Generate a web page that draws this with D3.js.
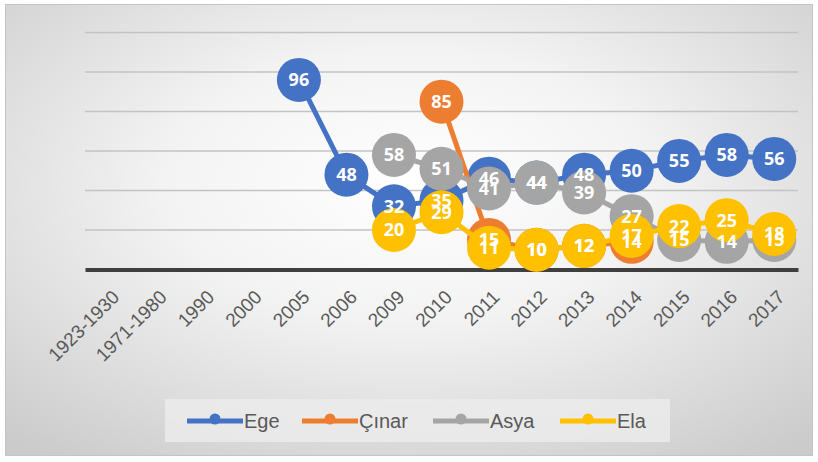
<!DOCTYPE html>
<html>
<head>
<meta charset="utf-8">
<script src="https://cdn.jsdelivr.net/npm/d3@7"></script>
<style>
  body { margin: 0; background: #fff; }
  svg { display: block; }
</style>
</head>
<body>
<script>
// ** Data
const categories = ["1923-1930", "1971-1980", "1990", "2000", "2005", "2006", "2009",
  "2010", "2011", "2012", "2013", "2014", "2015", "2016", "2017"];
const ege   = [null, null, null, null, 96, 48, 32, 35, 46, 44, 48, 50, 55, 58, 56];
const cinar = [null, null, null, null, null, null, null, 85, 15, 10, 12, 14, null, null, null];
const asya  = [null, null, null, null, null, null, 58, 51, 41, 44, 39, 27, 15, 14, 15];
const ela   = [null, null, null, null, null, null, 20, 29, 11, 10, 12, 17, 22, 25, 18];
const seriesNames = ["Ege", "Çınar", "Asya", "Ela"];
const yTicks = [0, 20, 40, 60, 80, 100, 120];

const colors = ["#4472C4", "#ED7D31", "#A5A5A5", "#FFC000"];
const series = [ege, cinar, asya, ela].map((values, i) => ({
  name: seriesNames[i],
  color: colors[i],
  values: values.map((v, j) => ({ cat: categories[j], v }))
}));

const W = 818, H = 462;
const svg = d3.select("body").append("svg").attr("width", W).attr("height", H);

// background gradient
const defs = svg.append("defs");
const grad = defs.append("radialGradient").attr("id", "bg")
  .attr("cx", "50%").attr("cy", "40%").attr("r", "75%");
grad.append("stop").attr("offset", "0%").attr("stop-color", "#ffffff");
grad.append("stop").attr("offset", "40%").attr("stop-color", "#f3f3f3");
grad.append("stop").attr("offset", "100%").attr("stop-color", "#cbcbcb");

svg.append("rect")
  .attr("x", 5.5).attr("y", 4.5).attr("width", 807).attr("height", 451)
  .attr("fill", "url(#bg)").attr("stroke", "#c4c4c4").attr("stroke-width", 1);

// ** Scales
const x = d3.scaleBand().domain(categories).range([85, 798]).padding(0);
const cx = c => x(c) + x.bandwidth() / 2;
const y = d3.scaleLinear().domain([0, 120]).range([269.5, 32.5]);

// gridlines
svg.append("g").selectAll("line")
  .data(yTicks.filter(t => t > 0))
  .join("line")
  .attr("x1", 85).attr("x2", 798)
  .attr("y1", d => y(d)).attr("y2", d => y(d))
  .attr("stroke", "#c3c3c3").attr("stroke-width", 1.5);

// x axis
const xAxis = svg.append("g")
  .attr("transform", `translate(0,${y(0)})`)
  .call(d3.axisBottom(x).tickSize(0).tickSizeOuter(0));
xAxis.select(".domain").attr("stroke", "#3f3f3f").attr("stroke-width", 4);
xAxis.selectAll("text")
  .attr("fill", "#595959")
  .style("font-family", "Liberation Sans, Arial, sans-serif")
  .style("font-size", "19px")
  .attr("text-anchor", "end")
  .attr("x", 0).attr("y", 0).attr("dy", "0.35em")
  .attr("transform", "translate(7,24) rotate(-45)");

// ** Lines and markers
const line = d3.line()
  .defined(d => d.v != null)
  .x(d => cx(d.cat))
  .y(d => y(d.v));

const R = 22;
series.forEach(s => {
  const g = svg.append("g");
  g.append("path")
    .attr("d", line(s.values))
    .attr("fill", "none")
    .attr("stroke", s.color)
    .attr("stroke-width", 5)
    .attr("stroke-linejoin", "round");
  g.selectAll("circle")
    .data(s.values.filter(d => d.v != null))
    .join("circle")
    .attr("cx", d => cx(d.cat))
    .attr("cy", d => y(d.v))
    .attr("r", R)
    .attr("fill", s.color);
});

// data labels on top
series.forEach(s => {
  svg.append("g").selectAll("text")
    .data(s.values.filter(d => d.v != null))
    .join("text")
    .attr("x", d => cx(d.cat))
    .attr("y", d => y(d.v))
    .attr("dy", "0.36em")
    .attr("text-anchor", "middle")
    .attr("fill", "#ffffff")
    .style("font-family", "Open Sans, sans-serif")
    .style("font-weight", "700")
    .style("font-size", "18px")
    .text(d => d.v);
});

// ** Legend
const legend = svg.append("g");
legend.append("rect")
  .attr("x", 165).attr("y", 399).attr("width", 505).attr("height", 43)
  .attr("fill", "#ececec").attr("opacity", 0.8);
const legendX = [187, 302, 433, 560];
const item = legend.selectAll("g.item")
  .data(series)
  .join("g")
  .attr("class", "item")
  .attr("transform", (d, i) => `translate(${legendX[i]},421)`);
item.append("line")
  .attr("x1", 0).attr("x2", 56)
  .attr("stroke", d => d.color).attr("stroke-width", 5);
item.append("circle")
  .attr("cx", 28).attr("cy", -2).attr("r", 5.5)
  .attr("fill", d => d.color);
item.append("text")
  .attr("x", 57).attr("dy", "0.35em")
  .attr("fill", "#595959")
  .style("font-family", "Liberation Sans, Arial, sans-serif")
  .style("font-size", "20px")
  .text(d => d.name);
</script>
</body>
</html>
